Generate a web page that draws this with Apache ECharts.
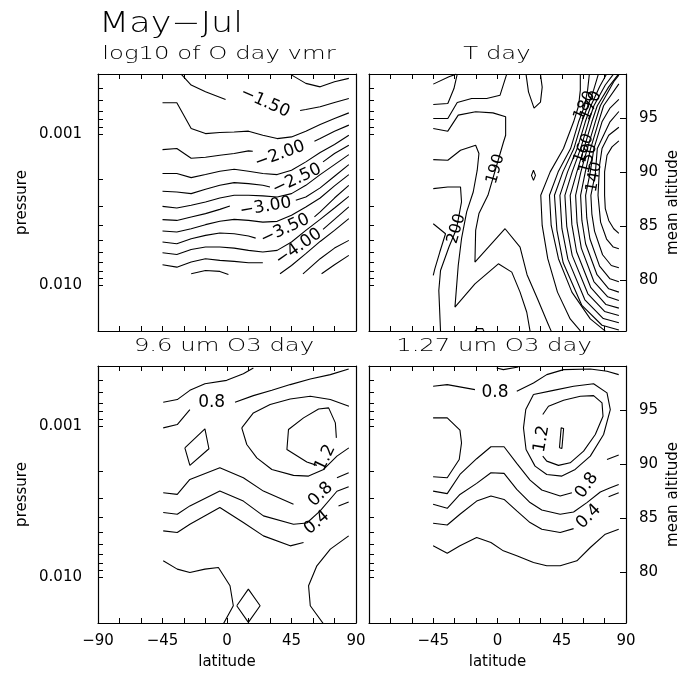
<!DOCTYPE html>
<html><head><meta charset="utf-8">
<script src="https://cdn.jsdelivr.net/npm/echarts@6/dist/echarts.min.js"></script>
<style>html,body{margin:0;background:#fff}#c{width:698px;height:678px}</style>
</head><body><div id="c"></div>
<script>
// ---------- axes ----------
const latTickVals = [-90,-75,-60,-45,-30,-15,0,15,30,45,60,75,90];
const latLabelsLeft = [-90,-45,0,45,90];
const latLabelsRight = [-45,0,45,90];
const pRange = [0.0004, 0.02];
const pLabelVals = [0.001, 0.01];
const pTickVals = [0.0005,0.0006,0.0007,0.0008,0.0009,0.001,0.002,0.003,0.004,0.005,0.006,0.007,0.008,0.009,0.01];
const altRange = [75.33, 99.04];
const altTicks = [80,85,90,95];
const panelTitles = ['log10 of O day vmr','T day','9.6 um O3 day','1.27 um O3 day'];
const mainTitle = 'May\u2212Jul';

// ---------- panel 1: log10 of O day vmr  ([latitude, log10 pressure]) ----------
const o_m125 = [[44,-3.397],[55,-3.336],[65,-3.313],[75,-3.347],[85,-3.369]];
const o_m150a = [[-32,-3.397],[-25,-3.325],[-15,-3.280],[-1,-3.230]];
const o_m150b = [[51,-3.157],[55,-3.163],[65,-3.181],[75,-3.210],[85,-3.236]];
const o_m175 = [[-45,-3.208],[-35,-3.208],[-25,-3.038],[-15,-3.004],[-5,-3.011],[5,-3.015],[15,-3.020],[25,-2.993],[35,-2.971],[45,-2.982],[55,-3.020],[65,-3.064],[75,-3.104],[85,-3.141]];
const o_m200a = [[-45,-2.898],[-35,-2.905],[-25,-2.841],[-15,-2.848],[-5,-2.861],[5,-2.872],[15,-2.890],[18,-2.887]];
const o_m200b = [[61,-2.954],[65,-2.971],[75,-3.020],[85,-3.060]];
const o_m225 = [[-45,-2.740],[-35,-2.740],[-25,-2.713],[-15,-2.733],[-5,-2.755],[5,-2.768],[15,-2.755],[25,-2.740],[35,-2.733],[45,-2.762],[55,-2.817],[65,-2.879],[75,-2.932],[85,-2.993]];
const o_m250a = [[-45,-2.623],[-35,-2.618],[-25,-2.607],[-15,-2.636],[-5,-2.662],[5,-2.680],[15,-2.673],[25,-2.662],[30,-2.651]];
const o_m250b = [[67,-2.817],[75,-2.872],[85,-2.927]];
const o_m275 = [[-45,-2.523],[-35,-2.512],[-25,-2.530],[-15,-2.552],[-5,-2.578],[5,-2.596],[15,-2.596],[25,-2.592],[35,-2.585],[45,-2.607],[55,-2.662],[65,-2.733],[75,-2.799],[85,-2.865]];
const o_m300a = [[-45,-2.435],[-35,-2.430],[-25,-2.453],[-15,-2.475],[-5,-2.503],[2,-2.525]];
const o_m300b = [[48,-2.563],[55,-2.585],[65,-2.645],[75,-2.722],[85,-2.799]];
const o_m325 = [[-45,-2.360],[-35,-2.353],[-25,-2.375],[-15,-2.402],[-5,-2.424],[5,-2.437],[15,-2.430],[25,-2.419],[35,-2.424],[45,-2.464],[55,-2.519],[65,-2.578],[75,-2.658],[85,-2.733]];
const o_m350a = [[-45,-2.287],[-35,-2.276],[-25,-2.309],[-15,-2.331],[-5,-2.347],[5,-2.342],[15,-2.327],[20,-2.313]];
const o_m350b = [[61,-2.453],[65,-2.486],[75,-2.578],[85,-2.662]];
const o_m375 = [[-45,-2.216],[-35,-2.205],[-25,-2.238],[-15,-2.254],[-5,-2.254],[5,-2.247],[15,-2.232],[25,-2.221],[35,-2.232],[45,-2.287],[55,-2.364],[65,-2.437],[75,-2.512],[85,-2.589]];
const o_m400a = [[-45,-2.137],[-35,-2.121],[-25,-2.155],[-15,-2.177],[-5,-2.166],[5,-2.159],[15,-2.150],[25,-2.150]];
const o_m400b = [[67,-2.371],[75,-2.437],[85,-2.519]];
const o_m425a = [[-25,-2.077],[-15,-2.099],[-5,-2.093],[1,-2.073]];
const o_m425b = [[37,-2.077],[45,-2.132],[55,-2.210],[65,-2.291],[75,-2.364],[85,-2.442]];
const o_m450 = [[53,-2.077],[55,-2.093],[65,-2.177],[75,-2.247],[85,-2.298]];
const o_m475 = [[66,-2.077],[75,-2.137],[85,-2.199]];
const p1Lines = [o_m125,o_m150a,o_m150b,o_m175,o_m200a,o_m200b,o_m225,o_m250a,o_m250b,o_m275,o_m300a,o_m300b,o_m325,o_m350a,o_m350b,o_m375,o_m400a,o_m400b,o_m425a,o_m425b,o_m450,o_m475];
const p1Labels = [['\u22121.50',26.6,-3.210,-24],['\u22122.00',37,-2.865,20],['\u22122.50',48.8,-2.702,25],['\u22123.00',27,-2.519,10],['\u22123.50',40.6,-2.371,25],['\u22124.00',50,-2.254,35]];

// ---------- panel 2: T day (K) ----------
const t_top1 = [[-45,-3.331],[-34.0,-3.380],[-28.9,-3.397]];
const t_top2 = [[-45,-3.196],[-34.8,-3.203],[-30.5,-3.302],[-28.2,-3.397]];
const t_top3 = [[-45,-3.104],[-34.8,-3.104],[-28.2,-3.210],[-18.1,-3.236],[-7.6,-3.236],[1.8,-3.258],[6.4,-3.395]];
const t_190 = [[-45,-3.038],[-34.8,-3.020],[-27.5,-3.126],[-15.3,-3.148],[-3.2,-3.141],[5.7,-3.115],[5.7,-2.993],[4.1,-2.945],[-6.7,-2.596],[-13.0,-2.475],[-15.3,-2.364],[-15.8,-2.155],[5.3,-2.375],[15.8,-2.254],[20.7,-2.071],[28.0,-1.912],[35.2,-1.750],[37.6,-1.698]];
const t_195 = [[-45,-2.832],[-34.8,-2.828],[-25.9,-2.894],[-15.3,-2.927],[-13.0,-2.872],[-14.2,-2.762],[-17.0,-2.618],[-21.6,-2.486],[-25.2,-2.309],[-27.5,-2.132],[-29.8,-1.857],[-15.8,-2.011],[0.6,-2.143],[10.0,-2.088],[15.8,-1.956],[20.5,-1.823],[22.8,-1.698]];
const t_200 = [[-45,-2.640],[-34.8,-2.651],[-25.9,-2.651],[-25.2,-2.552],[-28.7,-2.375],[-34.0,-2.254],[-39.9,-2.099],[-41.1,-1.967],[-39.9,-1.698]];
const t_205 = [[-45,-2.408],[-36.4,-2.342],[-40.4,-2.221],[-43.9,-2.110],[-45,-2.066]];
const t_cap = [[20.0,-3.395],[21.7,-3.280],[25.6,-3.172],[30.1,-3.212],[31.3,-3.311],[30.1,-3.395]];
const t_dot = [[25.2,-2.762],[26.6,-2.728],[25.2,-2.695],[23.8,-2.728],[25.2,-2.762]];
const t_blob = [[-15.8,-1.698],[-14.2,-1.715],[-10.4,-1.715],[-9.5,-1.698]];
const t_185 = [[58.0,-3.395],[58.0,-3.291],[56.8,-3.188],[53.3,-3.082],[46.2,-2.905],[36.9,-2.751],[30.3,-2.596],[31.3,-2.397],[35.2,-2.177],[42.0,-1.956],[50.9,-1.779],[58.2,-1.698]];
const t_180 = [[64.3,-3.395],[63.1,-3.291],[61.0,-3.188],[56.8,-3.082],[51.2,-2.905],[42.5,-2.751],[36.4,-2.596],[37.6,-2.397],[42.7,-2.177],[52.1,-1.956],[65.0,-1.779],[75.5,-1.698]];
const t_175 = [[70.6,-3.395],[67.3,-3.291],[63.3,-3.188],[59.1,-3.082],[53.5,-2.905],[45.8,-2.751],[39.9,-2.596],[41.6,-2.366],[46.0,-2.150],[59.1,-1.868],[73.2,-1.737],[85,-1.706]];
const t_170 = [[76.2,-3.395],[71.5,-3.313],[65.4,-3.188],[61.5,-3.082],[55.8,-2.905],[49.1,-2.751],[43.7,-2.596],[45.1,-2.377],[49.3,-2.174],[61.2,-1.905],[74.1,-1.781],[85,-1.753]];
const t_165 = [[81.1,-3.395],[75.5,-3.325],[67.5,-3.188],[63.8,-3.082],[58.2,-2.905],[52.3,-2.751],[47.2,-2.596],[48.5,-2.391],[52.3,-2.199],[63.3,-1.945],[75.0,-1.828],[85,-1.801]];
const t_160 = [[84.6,-3.395],[77.9,-3.313],[69.9,-3.188],[66.1,-3.082],[60.5,-2.905],[55.6,-2.751],[50.9,-2.596],[52.1,-2.402],[55.4,-2.223],[65.4,-1.985],[76.0,-1.874],[85,-1.850]];
const t_155 = [[85,-3.391],[81.4,-3.347],[72.0,-3.188],[68.5,-3.082],[62.9,-2.905],[58.4,-2.751],[54.7,-2.596],[55.7,-2.415],[58.7,-2.247],[67.5,-2.026],[77.2,-1.925],[85,-1.901]];
const t_150 = [[85,-3.333],[74.3,-3.188],[70.8,-3.082],[65.2,-2.905],[61.5,-2.751],[58.2,-2.596],[59.1,-2.430],[61.7,-2.276],[69.7,-2.071],[77.9,-1.978],[85,-1.956]];
const t_145 = [[85,-3.230],[78.6,-3.170],[73.2,-3.082],[67.5,-2.905],[65.0,-2.751],[61.7,-2.596],[62.5,-2.448],[64.7,-2.309],[71.5,-2.128],[78.8,-2.044],[85,-2.024]];
const t_140 = [[85,-3.150],[78.8,-3.082],[69.9,-2.905],[68.5,-2.740],[65.4,-2.596],[66.1,-2.472],[68.0,-2.358],[73.6,-2.203],[79.7,-2.132],[85,-2.117]];
const t_135 = [[85,-3.046],[77.9,-2.993],[73.2,-2.905],[71.5,-2.795],[70.4,-2.596],[72.2,-2.419],[76.4,-2.307],[81.1,-2.254],[85,-2.243]];
const t_130 = [[85,-2.956],[80.2,-2.916],[76.7,-2.861],[75.0,-2.751],[75.0,-2.596],[75.5,-2.508],[77.9,-2.430],[81.4,-2.375],[85,-2.344]];
const p2Lines = [t_top1,t_top2,t_top3,t_190,t_195,t_200,t_205,t_cap,t_dot,t_blob,t_185,t_180,t_175,t_170,t_165,t_160,t_155,t_150,t_145,t_140,t_135,t_130];
const p2Labels = [['190',-1.3,-2.770,74],['200',-28.7,-2.375,74],['180',61.0,-3.188,65],['170',65.4,-3.188,65],['160',60.5,-2.905,70],['150',63.6,-2.839,75],['140',67.8,-2.717,80]];

// ---------- panel 3: 9.6 um O3 day ----------
const n_06a = [[-44.5,-3.158],[-34.7,-3.176],[-25.9,-3.237],[-15.4,-3.281],[-0.2,-3.303],[11.4,-3.347],[18.4,-3.385]];
const n_08a1 = [[-44.5,-2.989],[-34.7,-3.011],[-25.9,-3.110]];
const n_08a2 = [[5.6,-3.158],[18.4,-3.202],[31.3,-3.237],[44.1,-3.275],[58.1,-3.312],[72.1,-3.341],[84.9,-3.378]];
const n_10d = [[-29.4,-2.857],[-15.4,-2.982],[-12.6,-2.851],[-25.9,-2.741],[-29.4,-2.857]];
const n_10top = [[10.3,-2.989],[18.4,-3.088],[30.1,-3.143],[44.1,-3.180],[58.1,-3.198],[72.1,-3.176],[85.1,-3.132]];
const n_10bot = [[10.3,-2.989],[13.8,-2.879],[20.8,-2.791],[31.3,-2.714],[46.4,-2.675],[56.9,-2.670],[67.4,-2.714],[76.7,-2.802],[85,-2.857]];
const n_12 = [[62.7,-2.741],[55.7,-2.763],[41.8,-2.846],[42.9,-2.978],[53.4,-3.055],[63.9,-3.114],[70.9,-3.121],[75.6,-3.022],[76.3,-2.923]];
const n_08b1 = [[-44.5,-2.560],[-34.7,-2.549],[-25.9,-2.648],[-5,-2.725],[11.4,-2.659],[25.4,-2.571],[46.4,-2.484]];
const n_08b2 = [[76.7,-2.659],[84.9,-2.692]];
const n_06b = [[-44.5,-2.429],[-34.7,-2.418],[-25.9,-2.473],[-5,-2.571],[11.4,-2.505],[25.4,-2.407],[46.4,-2.352],[55.7,-2.360],[65,-2.440],[76.7,-2.570],[84.9,-2.600]];
const n_04a = [[-44.5,-2.308],[-34.7,-2.297],[-25.9,-2.352],[-5,-2.462],[11.4,-2.363],[25.4,-2.275],[44.1,-2.209],[53.4,-2.231]];
const n_04b = [[77.8,-2.473],[84.9,-2.499]];
const n_02a = [[-44.5,-2.110],[-34.7,-2.055],[-25.9,-2.033],[-15.4,-2.055],[-6.0,-2.066],[2.1,-1.945],[4.4,-1.813],[-2.6,-1.692]];
const n_02b = [[84.9,-2.275],[72.1,-2.187],[62.7,-2.077],[56.9,-1.945],[58.1,-1.813],[67.4,-1.692]];
const n_d2 = [[6.8,-1.813],[14.9,-1.923],[23.1,-1.813],[14.9,-1.703],[6.8,-1.813]];
const p3Lines = [n_06a,n_08a1,n_08a2,n_10d,n_10top,n_10bot,n_12,n_08b1,n_08b2,n_06b,n_04a,n_04b,n_02a,n_02b,n_d2];
const p3Labels = [['0.8',-10.7,-3.154,0],['1.2',68.6,-2.791,65],['0.8',65.3,-2.549,45],['0.4',62.7,-2.363,40]];

// ---------- panel 4: 1.27 um O3 day ----------
const s_top = [[-0.6,-3.385],[4.1,-3.374],[14.6,-3.391]];
const s_08a1 = [[-45.1,-3.264],[-35.2,-3.275],[-15.8,-3.242]];
const s_08a2 = [[13.5,-3.231],[25.2,-3.286],[34.5,-3.341],[46.3,-3.374],[65.0,-3.378],[76.7,-3.363],[84.9,-3.341]];
const s_C = [[-45.1,-3.055],[-35.2,-3.055],[-26.3,-2.974],[-25.2,-2.890],[-26.8,-2.780],[-35.2,-2.659],[-45.1,-2.666]];
const s_10 = [[25.2,-3.209],[19.8,-3.110],[18.2,-2.989],[20.0,-2.846],[26.3,-2.736],[34.5,-2.681],[45.1,-2.670],[54.4,-2.714],[65.0,-2.802],[74.3,-2.945],[79.0,-3.110],[76.7,-3.220],[67.3,-3.281],[53.3,-3.264],[39.2,-3.237],[25.2,-3.209]];
const s_12 = [[31.7,-3.077],[35.7,-3.132],[46.3,-3.171],[58.0,-3.198],[67.3,-3.202],[73.2,-3.154],[73.9,-3.066],[68.5,-2.945],[60.3,-2.835],[50.9,-2.758],[42.7,-2.741],[34.5,-2.769],[31.7,-2.802]];
const s_08b1 = [[-45.1,-2.571],[-35.2,-2.554],[-26.3,-2.681],[-14.6,-2.785],[-4.6,-2.864],[4.6,-2.864],[13.5,-2.754],[22.8,-2.644],[31.0,-2.578],[43.9,-2.538],[52.1,-2.560]];
const s_08b2 = [[76.7,-2.780],[84.9,-2.809]];
const s_06 = [[-45.1,-2.484],[-35.2,-2.457],[-26.3,-2.549],[-14.6,-2.622],[-4.6,-2.692],[4.6,-2.688],[13.5,-2.582],[22.8,-2.495],[31.0,-2.446],[43.9,-2.418],[53.3,-2.433],[62.6,-2.495],[72.0,-2.565],[79.0,-2.593],[84.9,-2.615]];
const s_04a = [[-45.1,-2.358],[-35.2,-2.347],[-26.3,-2.418],[-14.6,-2.505],[-4.6,-2.538],[4.6,-2.516],[13.5,-2.440],[22.8,-2.363],[31.0,-2.319],[43.9,-2.297],[53.3,-2.323]];
const s_04b = [[77.8,-2.534],[84.9,-2.560]];
const s_02 = [[-45.1,-2.209],[-35.2,-2.160],[-26.3,-2.209],[-14.6,-2.264],[-4.6,-2.231],[4.1,-2.176],[13.5,-2.143],[25.2,-2.099],[34.5,-2.077],[43.9,-2.077],[55.6,-2.110],[65.0,-2.198],[75.5,-2.286],[84.9,-2.319]];
const s_tiny = [[43.4,-2.857],[44.6,-2.989],[46.3,-2.985],[45.1,-2.853],[43.4,-2.857]];
const p4Lines = [s_top,s_08a1,s_08a2,s_C,s_10,s_12,s_08b1,s_08b2,s_06,s_04a,s_04b,s_02,s_tiny];
const p4Labels = [['0.8',-1.7,-3.224,0],['1.2',31,-2.916,80],['0.8',62.6,-2.609,55],['0.4',63.8,-2.402,45]];

// ---------- build ----------
const FONT = 'DejaVu Sans';
const BLACK = '#000';
const grids = [
  {left:98, top:74, width:258, height:257},
  {left:369, top:74, width:257, height:257},
  {left:98, top:366, width:258, height:257},
  {left:369, top:366, width:257, height:257}
];
const axLine = {show:true, onZero:false, lineStyle:{color:BLACK, width:1.2}};
const latFmt = v => (v < 0 ? '\u2212' : '') + Math.abs(v);
const xAxes = [], yAxes = [], series = [];
grids.forEach((gr, g) => {
  const isLeft = g % 2 === 0, isBottom = g >= 2;
  xAxes.push({type:'value', gridIndex:g, min:-90, max:90, position:'bottom',
    axisLine:axLine, splitLine:{show:false},
    axisTick:{show:true, inside:true, length:5, customValues:latTickVals, lineStyle:{color:BLACK}},
    axisLabel:{show:isBottom, customValues:isLeft?latLabelsLeft:latLabelsRight, formatter:latFmt, color:BLACK, fontSize:15, fontFamily:FONT, margin:11},
    name:isBottom?'latitude':'', nameLocation:'middle', nameGap:32,
    nameTextStyle:{color:BLACK, fontSize:15, fontFamily:FONT}});
  xAxes.push({type:'value', gridIndex:g, min:-90, max:90, position:'top',
    axisLine:axLine, splitLine:{show:false},
    axisTick:{show:true, inside:true, length:5, customValues:latTickVals, lineStyle:{color:BLACK}},
    axisLabel:{show:false}});
  yAxes.push({type:'value', gridIndex:g, min:Math.log10(pRange[0]), max:Math.log10(pRange[1]), inverse:true, position:'left',
    axisLine:axLine, splitLine:{show:false},
    axisTick:{show:true, inside:true, length:5, customValues:pTickVals.map(Math.log10), lineStyle:{color:BLACK}},
    axisLabel:{show:isLeft, customValues:pLabelVals.map(Math.log10), formatter:v=>Math.pow(10,v).toFixed(3), color:BLACK, fontSize:15, fontFamily:FONT, margin:16},
    name:isLeft?'pressure':'', nameLocation:'middle', nameRotate:90, nameGap:68,
    nameTextStyle:{color:BLACK, fontSize:15, fontFamily:FONT}});
  if (isLeft) {
    yAxes.push({type:'value', gridIndex:g, min:0, max:1, position:'right', axisLine:axLine,
      axisTick:{show:false}, axisLabel:{show:false}, splitLine:{show:false}});
  } else {
    yAxes.push({type:'value', gridIndex:g, min:altRange[0], max:altRange[1], position:'right',
      axisLine:axLine, splitLine:{show:false},
      axisTick:{show:true, inside:true, length:6, customValues:altTicks, lineStyle:{color:BLACK}},
      axisLabel:{show:true, customValues:altTicks, color:BLACK, fontSize:15, fontFamily:FONT, margin:13},
      name:'mean altitude', nameLocation:'middle', nameRotate:90, nameGap:40,
      nameTextStyle:{color:BLACK, fontSize:15, fontFamily:FONT}});
  }
});
const panelLines = [p1Lines, p2Lines, p3Lines, p4Lines];
const panelLabels = [p1Labels, p2Labels, p3Labels, p4Labels];
panelLines.forEach((lines, g) => {
  lines.forEach(seg => series.push({type:'line', xAxisIndex:g*2, yAxisIndex:g*2, data:seg,
    symbol:'none', showSymbol:false, silent:true, animation:false, z:3,
    lineStyle:{color:BLACK, width:1.1}}));
  series.push({type:'scatter', xAxisIndex:g*2, yAxisIndex:g*2, symbolSize:0, silent:true, animation:false, z:5,
    itemStyle:{color:BLACK, opacity:1},
    label:{show:true, position:'inside', color:BLACK, opacity:1, fontSize:g===1?16:17, fontFamily:FONT, fontWeight:'normal', textBorderWidth:0},
    data:panelLabels[g].map(l => ({value:[l[1], l[2]], label:{formatter:l[0], rotate:l[3]}}))});
});
const titleCenters = [[219,54],[497,54],[224,346],[494,346]];
const graphic = [{type:'text', x:99, y:25, scaleX:1.25,
  style:{text:mainTitle, fontSize:28, fontFamily:FONT, fontWeight:200, fill:BLACK, textAlign:'left', textVerticalAlign:'middle'}}];
panelTitles.forEach((t,i) => graphic.push({type:'text', x:titleCenters[i][0], y:titleCenters[i][1], scaleX:1.35,
  style:{text:t, fontSize:18, fontFamily:FONT, fontWeight:200, fill:BLACK, textAlign:'center', textVerticalAlign:'middle'}}));

const chart = echarts.init(document.getElementById('c'), null, {renderer:'canvas'});
chart.setOption({animation:false, backgroundColor:'#fff', grid:grids, xAxis:xAxes, yAxis:yAxes, series:series, graphic:graphic});
</script></body></html>
